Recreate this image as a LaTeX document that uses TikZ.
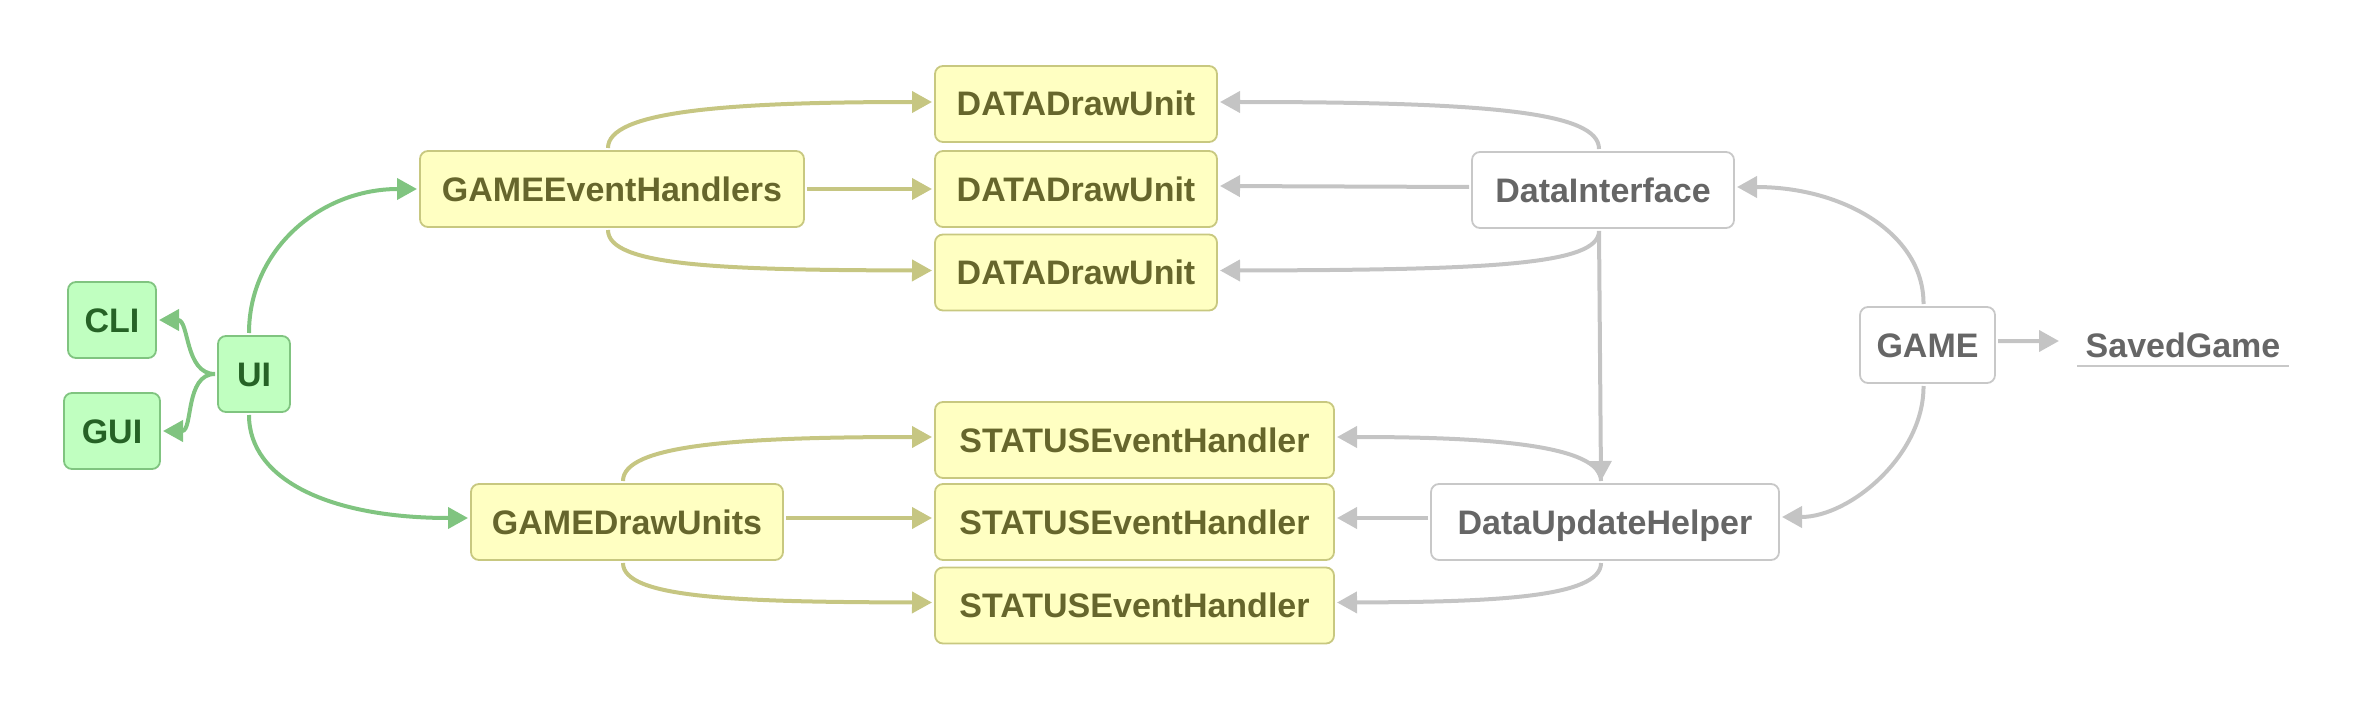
\documentclass[tikz,border=0pt]{standalone}
\usepackage{fontspec}
\setmainfont{Liberation Sans}
\usetikzlibrary{arrows.meta}
\definecolor{grnF}{RGB}{192,255,192}
\definecolor{grnB}{RGB}{128,196,128}
\definecolor{grnT}{RGB}{38,98,38}
\definecolor{yelF}{RGB}{255,255,194}
\definecolor{yelB}{RGB}{200,200,128}
\definecolor{yelT}{RGB}{102,102,44}
\definecolor{yelL}{RGB}{198,198,130}
\definecolor{gryB}{RGB}{200,200,200}
\definecolor{gryT}{RGB}{102,102,102}
\definecolor{gryL}{RGB}{196,196,196}
\tikzset{
  box/.style={rounded corners=8bp, minimum height=76bp, line width=1.8bp, inner sep=0pt,
    outer sep=3bp, text height=24bp, text depth=0bp, font=\fontsize{34bp}{40bp}\selectfont\bfseries},
  gbox/.style={box, draw=grnB, fill=grnF, text=grnT},
  ybox/.style={box, draw=yelB, fill=yelF, text=yelT},
  wbox/.style={box, draw=gryB, fill=white, text=gryT},
  conn/.style={line width=4bp, -{Triangle[length=20bp,width=21bp]}},
  garr/.style={conn, draw=grnB},
  yarr/.style={conn, draw=yelL},
  warr/.style={conn, draw=gryL},
}
\begin{document}
\begin{tikzpicture}[x=1bp,y=-1bp]
\useasboundingbox (0,0) rectangle (2358,702);
% green
\node[gbox, minimum width=88bp] (cli) at (112,320) {CLI};
\node[gbox, minimum width=96bp] (gui) at (112,431) {GUI};
\node[gbox, minimum width=72bp] (ui) at (254,374) {UI};
% yellow
\node[ybox, minimum width=384bp] (geh) at (612,189) {GAMEEventHandlers};
\node[ybox, minimum width=282bp] (d1) at (1076,104) {DATADrawUnit};
\node[ybox, minimum width=282bp] (d2) at (1076,189) {DATADrawUnit};
\node[ybox, minimum width=282bp] (d3) at (1076,272.5) {DATADrawUnit};
\node[ybox, minimum width=312bp] (gdu) at (627,522) {GAMEDrawUnits};
\node[ybox, minimum width=399bp] (s1) at (1134.5,440) {STATUSEventHandler};
\node[ybox, minimum width=399bp] (s2) at (1134.5,522) {STATUSEventHandler};
\node[ybox, minimum width=399bp] (s3) at (1134.5,605.5) {STATUSEventHandler};
% gray
\node[wbox, minimum width=262bp] (di) at (1603,190) {DataInterface};
\node[wbox, minimum width=348bp] (duh) at (1605,522) {DataUpdateHelper};
\node[wbox, minimum width=135bp] (game) at (1927.5,345) {GAME};
\node[inner sep=0pt, text height=24bp, text depth=0bp, text=gryT,
  font=\fontsize{34bp}{40bp}\selectfont\bfseries] (sg) at (2183,345) {SavedGame};
\coordinate (sgw) at (2059,341);
\draw[gryB, line width=2bp] (2077,366) -- (2289,366);
% green connectors
\draw[garr] (ui.west) to[out=180,in=0] (cli.east);
\draw[garr] (ui.west) to[out=180,in=0] (gui.east);
\draw[garr] ([xshift=-5bp]ui.north) .. controls (249,250) and (320,189) .. (geh.west);
\draw[garr] ([xshift=-5bp]ui.south) .. controls (249,480) and (330,518) .. ([yshift=4bp]gdu.west);
% yellow connectors
\draw[yarr] ([xshift=-4bp]geh.north) .. controls (608,112) and (720,102) .. ([yshift=2bp]d1.west);
\draw[yarr] (geh.east) -- (d2.west);
\draw[yarr] ([xshift=-4bp]geh.south) .. controls (608,266) and (720,270) .. ([yshift=2bp]d3.west);
\draw[yarr] ([xshift=-4bp]gdu.north) .. controls (623,445) and (735,437) .. ([yshift=3bp]s1.west);
\draw[yarr] ([yshift=4bp]gdu.east) -- ([yshift=4bp]s2.west);
\draw[yarr] ([xshift=-4bp]gdu.south) .. controls (623,598) and (735,602) .. ([yshift=3bp]s3.west);
% gray connectors
\draw[warr] ([xshift=-4bp]di.north) .. controls (1599,112) and (1490,102) .. ([yshift=2bp]d1.east);
\draw[warr] ([yshift=3bp]di.west) -- ([yshift=3bp]d2.east);
\draw[warr] ([xshift=-4bp]di.south) .. controls (1599,265) and (1490,270) .. ([yshift=2bp]d3.east);
\draw[warr] ([xshift=-4bp]di.south) -- ([xshift=-4bp]duh.north);
\draw[warr] ([xshift=-4bp]duh.north) .. controls (1601,445) and (1490,437) .. ([yshift=3bp]s1.east);
\draw[warr] ([yshift=4bp]duh.west) -- ([yshift=4bp]s2.east);
\draw[warr] ([xshift=-4bp]duh.south) .. controls (1601,598) and (1490,602) .. ([yshift=3bp]s3.east);
\draw[warr] ([xshift=-4bp]game.north) .. controls (1924,235) and (1845,187) .. ([yshift=3bp]di.east);
\draw[warr] ([xshift=-4bp]game.south) .. controls (1924,455) and (1850,517) .. ([yshift=5bp]duh.east);
\draw[warr] ([yshift=4bp]game.east) -- (sgw);
\end{tikzpicture}
\end{document}
